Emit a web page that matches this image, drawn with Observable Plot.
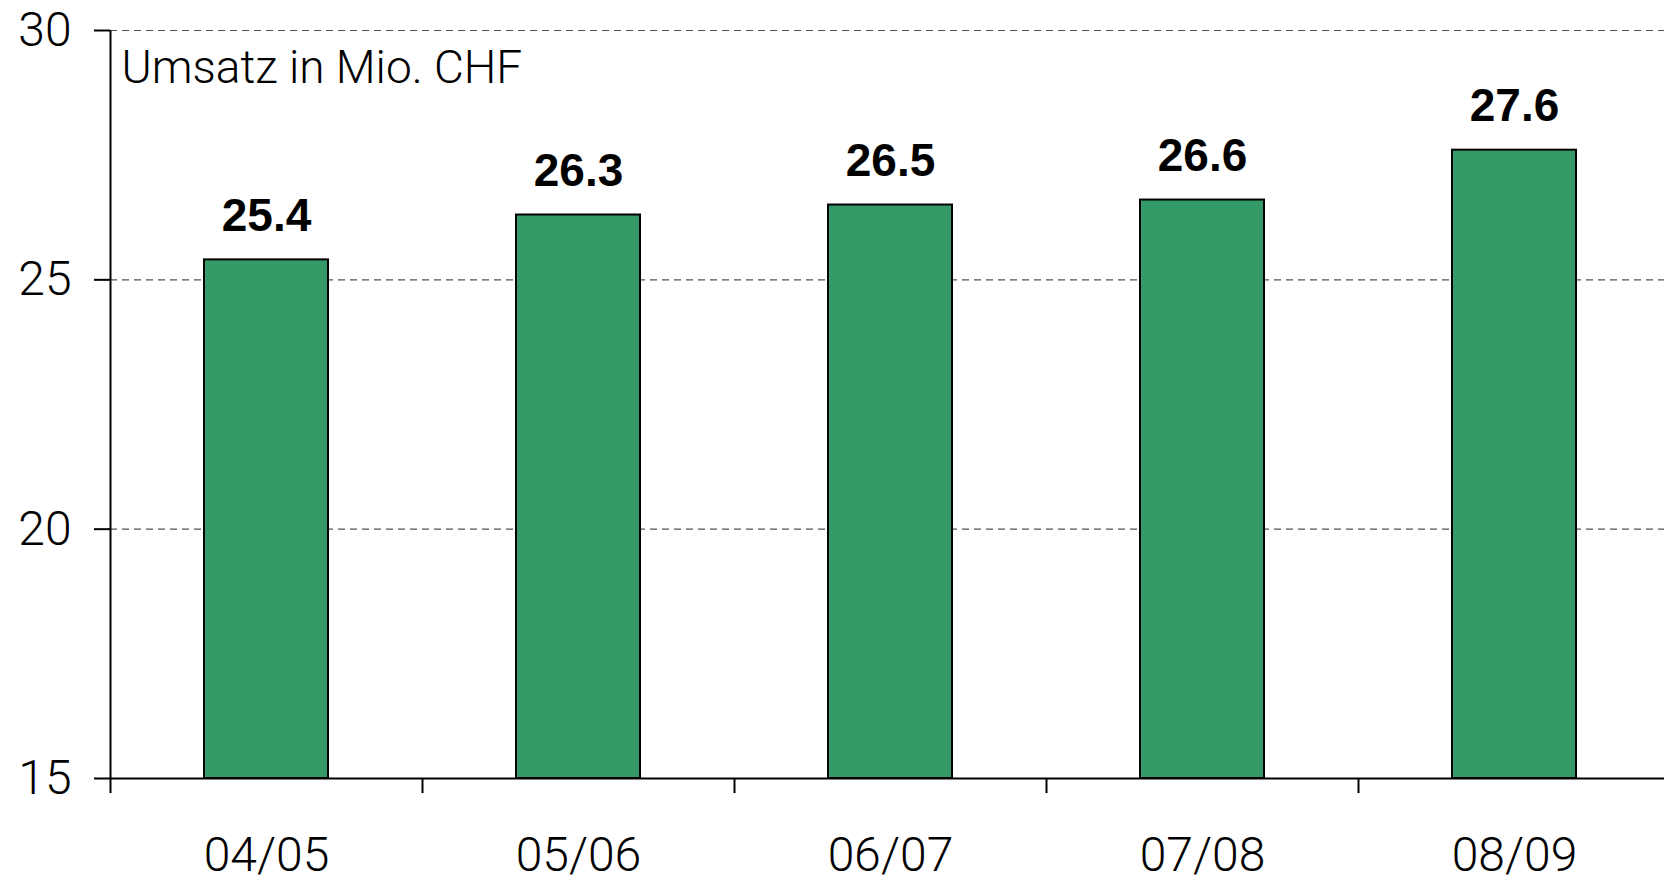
<!DOCTYPE html>
<html>
<head>
<meta charset="utf-8">
<script src="https://cdn.jsdelivr.net/npm/d3@7"></script>
<script src="https://cdn.jsdelivr.net/npm/@observablehq/plot@0.6"></script>
<style>
  html, body { margin: 0; padding: 0; background: #fff; overflow: hidden; }
</style>
</head>
<body>
<div id="chart"></div>
<script>
const categories = ["04/05", "05/06", "06/07", "07/08", "08/09"];
const values = [25.4, 26.3, 26.5, 26.6, 27.6];
const yTicks = [15, 20, 25, 30];
const gridTicks = [20, 25, 30];
const unitLabel = "Umsatz in Mio. CHF";

const data = categories.map((c, i) => ({category: c, i, value: values[i]}));
const idx = categories.map((c, i) => i);

const chart = Plot.plot({
  width: 1664,
  height: 882,
  marginLeft: 110,
  marginRight: -6,
  marginTop: 30,
  marginBottom: 104,
  style: {background: "#fff", fontFamily: "Roboto, 'Liberation Sans', sans-serif"},
  x: {type: "linear", domain: [0, categories.length], label: null},
  y: {domain: [15, 30], label: null},
  marks: [
    Plot.gridY({ticks: gridTicks, stroke: "#555", strokeOpacity: 1, strokeWidth: 1.2, strokeDasharray: "7,5"}),
    Plot.rectY(data, {
      x1: d => d.i, x2: d => d.i + 1, y1: 15, y2: "value",
      insetLeft: 94, insetRight: 94,
      fill: "#349a67", stroke: "#000", strokeWidth: 2
    }),
    Plot.ruleY([15], {stroke: "#000", strokeWidth: 2}),
    Plot.ruleX([0], {y1: 15, y2: 30, stroke: "#000", strokeWidth: 2}),
    Plot.axisY({
      ticks: yTicks, tickSize: 16, tickPadding: 23, label: null,
      fontSize: 48, fontWeight: 300, stroke: "#000", strokeWidth: 2, color: "#000"
    }),
    Plot.axisX({
      ticks: idx, tickSize: 15, tickFormat: () => "", label: null,
      stroke: "#000", strokeWidth: 2
    }),
    Plot.axisX({
      ticks: idx.map(i => i + 0.5), tickSize: 0, tickPadding: 58, label: null,
      tickFormat: v => categories[Math.floor(v)],
      fontSize: 48, fontWeight: 300, color: "#000"
    }),
    Plot.text(data, {
      x: d => d.i + 0.5, y: "value", text: d => d.value.toFixed(1),
      dy: -29, lineAnchor: "bottom", fontSize: 46, fontWeight: "bold",
      fontFamily: "'Liberation Sans', Arial, sans-serif", fill: "#000"
    }),
    Plot.text([unitLabel], {
      frameAnchor: "top-left", dx: 11, dy: 52, lineAnchor: "bottom",
      textAnchor: "start", fontSize: 46, fontWeight: 300, fill: "#000"
    })
  ]
});
document.getElementById("chart").appendChild(chart);
</script>
</body>
</html>
